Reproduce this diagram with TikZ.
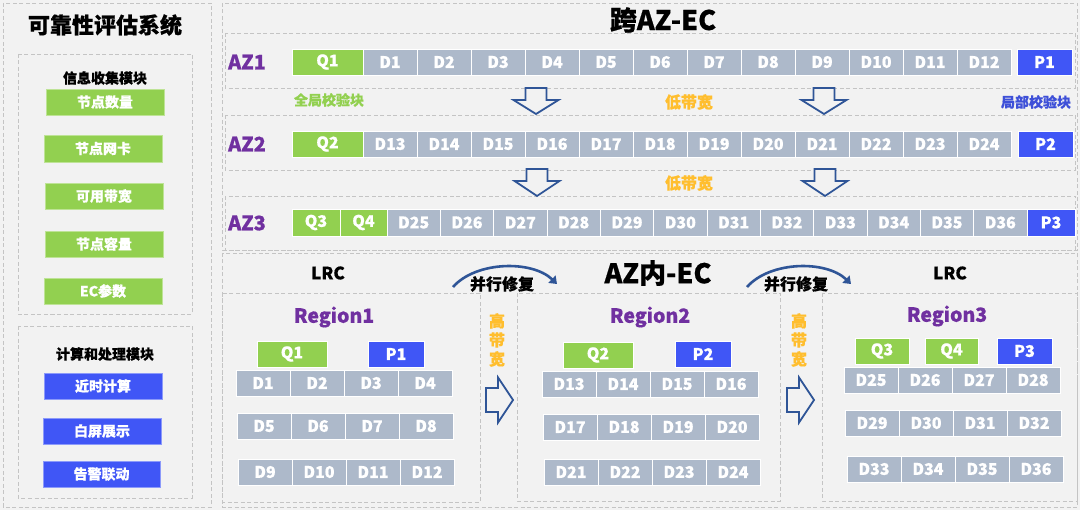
\documentclass[tikz,border=0pt]{standalone}
\usepackage{fontspec}
\newfontfamily\cjk{Noto Sans CJK SC}[BoldFeatures={FakeBold=0.6}]
\usetikzlibrary{arrows.meta}
\definecolor{bg}{HTML}{F2F2F2}
\definecolor{dashc}{HTML}{C4C4C4}
\definecolor{cellgray}{HTML}{ADB9CA}
\definecolor{qgreen}{HTML}{92D050}
\definecolor{pblue}{RGB}{64,86,246}
\definecolor{purp}{HTML}{7030A0}
\definecolor{orng}{HTML}{FFBE2E}
\definecolor{arrblue}{HTML}{2F5597}
\definecolor{lblue}{RGB}{62,80,216}
\newcommand\bx[7]{\node[#1, minimum width={(#5)-(#3)}, minimum height={(#6)-(#4)}] (#2) at (#3,#4) {#7};}
\newcommand\fs[1]{\fontsize{#1}{#1}\selectfont}
\newcommand\dnarr[3]{\draw[hollow] (#1-10.5,#2) -- (#1+10.5,#2) -- (#1+10.5,#2+12) -- (#1+22.5,#2+12) -- (#1,#3) -- (#1-22.5,#2+12) -- (#1-10.5,#2+12) -- cycle;}
\newcommand\rtarr[2]{\draw[hollow] (#1,#2-12) -- (#1+12,#2-12) -- (#1+12,#2-22.5) -- (#1+27,#2) -- (#1+12,#2+22.5) -- (#1+12,#2+12) -- (#1,#2+12) -- cycle;}
\begin{document}
\begin{tikzpicture}[x=1pt,y=-1pt,
  dbox/.style={draw=dashc, dash pattern=on 4pt off 2.5pt, line width=0.9pt},
  cellbase/.style={draw=white, line width=0.7pt, inner sep=0pt, outer sep=0pt, text=white, anchor=north west, font=\cjk\bfseries\fs{16}},
  dcell/.style={cellbase, fill=cellgray},
  qcell/.style={cellbase, fill=qgreen},
  pcell/.style={cellbase, fill=pblue},
  gbtn/.style={cellbase, fill=qgreen, draw=qgreen!60!white, font=\cjk\bfseries\fs{14}},
  bbtn/.style={cellbase, fill=pblue, draw=pblue!60!white, font=\cjk\bfseries\fs{14}},
  lbl/.style={inner sep=0pt, font=\cjk\bfseries\fs{#1}},
  hollow/.style={draw=arrblue, line width=1.8pt, fill=bg, line join=miter},
  arcarr/.style={draw=arrblue, line width=2.6pt, -{Triangle[length=7pt,width=10pt]}}
]
\useasboundingbox (0,0) rectangle (1080,510);
\fill[bg] (0,0) rectangle (1080,510);
% ---------- left panel ----------
\draw[dbox] (3,3) rectangle (211,507);
\draw[dbox] (18,54) rectangle (192,314);
\draw[dbox] (18,326) rectangle (192,498);
\node[lbl=22] (ltitle) at (105,25) {可靠性评估系统};
\node[lbl=14] (lsub1) at (105,78) {信息收集模块};
\node[lbl=14] (lsub2) at (105,354) {计算和处理模块};
\bx{gbtn}{L1}{46}{89}{164}{115}{节点数量}
\bx{gbtn}{L2}{44}{135}{162}{162}{节点网卡}
\bx{gbtn}{L3}{45}{183}{163}{209}{可用带宽}
\bx{gbtn}{L4}{45}{231}{163}{257}{节点容量}
\bx{gbtn}{L5}{44}{278}{162}{304}{EC参数}
\bx{bbtn}{L6}{44}{373}{162}{399}{近时计算}
\bx{bbtn}{L7}{43}{418}{161}{444}{白屏展示}
\bx{bbtn}{L8}{43}{461}{160}{487}{告警联动}
% ---------- top right panel: cross AZ ----------
\draw[dbox] (222,3) rectangle (1077,250);
\draw[dbox] (225,33) rectangle (1075,88);
\draw[dbox] (225,115) rectangle (1075,170);
\draw[dbox] (225,196) rectangle (1075,250);
\node[lbl=27] (ttitle) at (663,20) {跨AZ-EC};
\node[lbl=20, text=purp] (az1) at (247,62) {AZ1};
\node[lbl=20, text=purp] (az2) at (247,144) {AZ2};
\node[lbl=20, text=purp] (az3) at (247,223) {AZ3};
% AZ1 row
\bx{qcell}{a1q}{292}{49}{363}{75}{Q1}
\foreach \i in {1,...,12}{
  \pgfmathsetmacro\xa{363+(\i-1)*54}
  \bx{dcell}{a1d\i}{\xa}{49}{\xa+54}{75}{D\i}
}
\bx{pcell}{a1p}{1017}{49}{1072}{75}{P1}
% AZ2 row
\bx{qcell}{a2q}{292}{131}{363}{157}{Q2}
\foreach \i in {1,...,12}{
  \pgfmathsetmacro\xa{363+(\i-1)*54}
  \pgfmathtruncatemacro\n{\i+12}
  \bx{dcell}{a2d\i}{\xa}{131}{\xa+54}{157}{D\n}
}
\bx{pcell}{a2p}{1018}{131}{1073}{157}{P2}
% AZ3 row
\bx{qcell}{a3q3}{292}{209}{340}{236}{Q3}
\bx{qcell}{a3q4}{340}{209}{387}{236}{Q4}
\foreach \i in {1,...,12}{
  \pgfmathsetmacro\xa{387+(\i-1)*53.33}
  \pgfmathtruncatemacro\n{\i+24}
  \bx{dcell}{a3d\i}{\xa}{209}{\xa+53.33}{236}{D\n}
}
\bx{pcell}{a3p}{1027}{209}{1075}{236}{P3}
% labels between rows
\node[lbl=14, text=qgreen] (glob) at (329,100) {全局校验块};
\node[lbl=16, text=orng] (low1) at (689,102) {低带宽};
\node[lbl=14, text=lblue] (loc) at (1036,102) {局部校验块};
\node[lbl=16, text=orng] (low2) at (689,183) {低带宽};
\dnarr{536}{88}{114}
\dnarr{824}{88}{114}
\dnarr{537}{169}{196}
\dnarr{825}{169}{196}
% ---------- bottom panel: within AZ ----------
\draw[dbox] (222,253) rectangle (1077,507);
\draw[dbox] (222,293) rectangle (480,502);
\draw[dbox] (517,293) rectangle (780,501);
\draw[dbox] (822,293) rectangle (1077,501);
\node[lbl=27] (btitle) at (658,273) {AZ内-EC};
\node[lbl=17] (lrc1) at (328,273) {LRC};
\node[lbl=17] (lrc2) at (950,273) {LRC};
\draw[arcarr] (453,287) .. controls (476,261) and (532,260) .. (557,284);
\draw[arcarr] (747,287) .. controls (770,261) and (826,260) .. (851,284);
\node[lbl=16] (par1) at (502,284) {并行修复};
\node[lbl=16] (par2) at (796,284) {并行修复};
\node[lbl=16, text=orng, align=center, font=\cjk\bfseries\fontsize{16}{19}\selectfont] (hb1) at (497,340) {高\\带\\宽};
\node[lbl=16, text=orng, align=center, font=\cjk\bfseries\fontsize{16}{19}\selectfont] (hb2) at (799,340) {高\\带\\宽};
\rtarr{486}{400}
\rtarr{787}{400}
\node[lbl=19.5, text=purp] (reg1) at (334,317) {Region1};
\node[lbl=19.5, text=purp] (reg2) at (650,317) {Region2};
\node[lbl=19.5, text=purp] (reg3) at (947,316) {Region3};
% Region1
\bx{qcell}{r1q}{257}{341}{327}{367}{Q1}
\bx{pcell}{r1p}{368}{341}{424}{367}{P1}
\foreach \r/\xs/\ys in {0/236/370,1/237/413,2/238/459}{
  \foreach \c in {0,...,3}{
    \pgfmathtruncatemacro\n{1+4*\r+\c}
    \pgfmathsetmacro\xa{\xs+54*\c}
    \bx{dcell}{r1d\n}{\xa}{\ys}{\xa+54}{\ys+26}{D\n}
  }
}
% Region2
\bx{qcell}{r2q}{563}{342}{633}{368}{Q2}
\bx{pcell}{r2p}{675}{341}{731}{367}{P2}
\foreach \r/\xs/\ys in {0/542/371,1/543/414,2/544/459}{
  \foreach \c in {0,...,3}{
    \pgfmathtruncatemacro\n{13+4*\r+\c}
    \pgfmathsetmacro\xa{\xs+54*\c}
    \bx{dcell}{r2d\n}{\xa}{\ys}{\xa+54}{\ys+26}{D\n}
  }
}
% Region3
\bx{qcell}{r3q3}{855}{338}{909}{364}{Q3}
\bx{qcell}{r3q4}{925}{338}{978}{364}{Q4}
\bx{pcell}{r3p}{997}{338}{1052}{364}{P3}
\foreach \r/\xs/\ys in {0/844/367,1/845/410,2/847/456}{
  \foreach \c in {0,...,3}{
    \pgfmathtruncatemacro\n{25+4*\r+\c}
    \pgfmathsetmacro\xa{\xs+54*\c}
    \bx{dcell}{r3d\n}{\xa}{\ys}{\xa+54}{\ys+26}{D\n}
  }
}
\end{tikzpicture}
\end{document}
